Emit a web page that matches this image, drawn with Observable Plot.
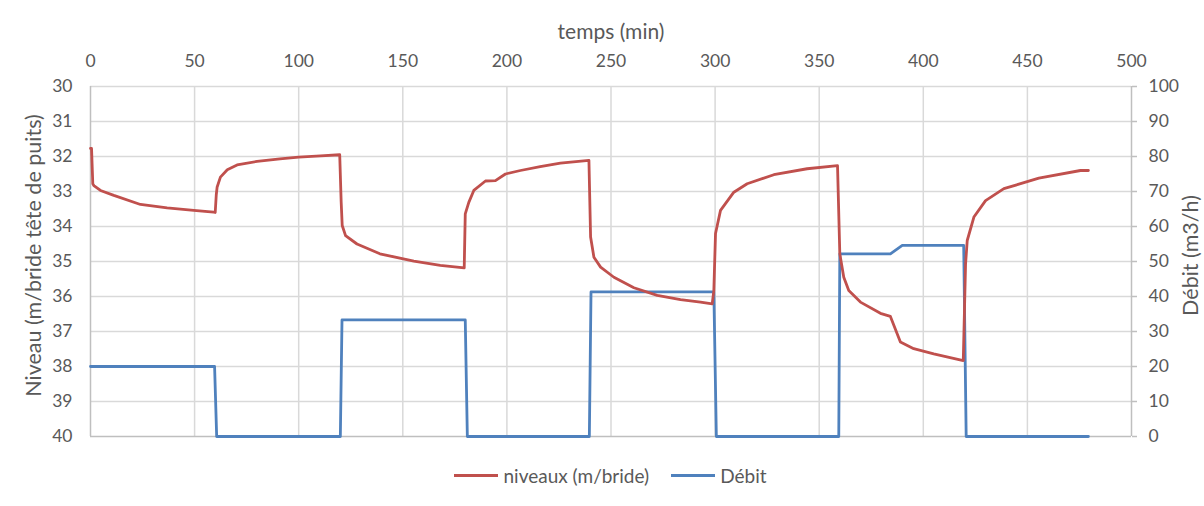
<!DOCTYPE html>
<html><head><meta charset="utf-8">
<script src="https://cdn.jsdelivr.net/npm/d3@7"></script>
<script src="https://cdn.jsdelivr.net/npm/@observablehq/plot@0.6"></script>
<style>
body{margin:0;background:#fff;font-family:Lato,"Open Sans",sans-serif;}
#chart{width:1204px;height:450px;}
#legend{width:1204px;height:50px;display:flex;justify-content:center;align-items:center;font-size:19px;color:#595959;padding-left:17px;box-sizing:border-box}
.item{display:flex;align-items:center;margin:0 11px}
.sw{width:44px;height:3px;margin-right:5px}
</style></head><body><div id="chart"></div><div id="legend"></div>
<script>
const tempsNiveau = [0, 0.5, 1.1, 1.6, 4.8, 11.2, 24, 36.8, 49.6, 55, 59.2, 59.9, 60.4, 60.8, 62.4, 65.7, 70.4, 80, 91, 100, 110.5, 119.7, 120.4, 120.9, 122.5, 128, 139, 155.3, 168, 179.5, 180, 181.7, 184.1, 189.7, 194.5, 199.3, 206.5, 216, 225.7, 239.4, 240.2, 241.8, 245, 251.4, 261, 272.2, 283.4, 293, 298.6, 299.4, 300.2, 302.6, 309, 315.4, 328.2, 344.2, 358.8, 359.9, 361.8, 364.2, 369.8, 379.4, 384.2, 389, 395.4, 405, 419.2, 420.3, 421.1, 424.3, 429.9, 438.7, 455.5, 475.5, 479.3];
const niveau = [31.77, 31.77, 32.78, 32.83, 32.97, 33.11, 33.37, 33.47, 33.54, 33.57, 33.59, 33.6, 33.1, 32.88, 32.59, 32.38, 32.24, 32.14, 32.07, 32.02, 31.98, 31.95, 33.3, 33.97, 34.26, 34.5, 34.78, 34.99, 35.11, 35.18, 33.64, 33.31, 32.97, 32.7, 32.69, 32.5, 32.4, 32.29, 32.19, 32.11, 34.3, 34.88, 35.16, 35.45, 35.75, 35.97, 36.09, 36.16, 36.21, 35.83, 34.2, 33.54, 33.02, 32.78, 32.52, 32.35, 32.26, 34.78, 35.45, 35.83, 36.16, 36.48, 36.57, 37.3, 37.49, 37.64, 37.83, 35.07, 34.4, 33.73, 33.26, 32.92, 32.62, 32.4, 32.4];
const tempsDebit = [0, 59.6, 60.6, 120, 120.8, 180, 181, 239.6, 240.4, 299.4, 300.6, 359.4, 359.9, 384.2, 389.9, 419.4, 420.6, 479.3];
const debit = [20, 20, 0, 0, 33.3, 33.3, 0, 0, 41.3, 41.3, 0, 0, 52.2, 52.2, 54.6, 54.6, 0, 0];
const xTicks = [0, 50, 100, 150, 200, 250, 300, 350, 400, 450, 500];
const yTicksNiveau = [30, 31, 32, 33, 34, 35, 36, 37, 38, 39, 40];
const yTicksDebit = [0, 10, 20, 30, 40, 50, 60, 70, 80, 90, 100];

const toLeft = q => 40 - q / 10;
const niveauData = tempsNiveau.map((t, i) => ({t, v: niveau[i]}));
const debitData = tempsDebit.map((t, i) => ({t, v: toLeft(debit[i])}));
const grid = "#d9d9d9", axisC = "#bfbfbf", txt = "#595959";
const fam = "Lato, 'Open Sans', sans-serif";

const plot = Plot.plot({
  width: 1204, height: 450, marginTop: 86, marginBottom: 14, marginLeft: 90, marginRight: 73,
  style: {fontFamily: fam, fontSize: "17.5px", color: txt, background: "#fff", overflow: "visible"},
  x: {domain: [0, 500]},
  y: {domain: [30, 40], reverse: true},
  marks: [
    Plot.ruleX(xTicks.slice(1, -1), {stroke: grid, strokeWidth: 1.5}),
    Plot.ruleY(yTicksNiveau.slice(0, -1), {stroke: grid, strokeWidth: 1.5}),
    Plot.ruleY([40], {stroke: axisC, strokeWidth: 1.5}),
    Plot.ruleX([0], {stroke: axisC, strokeWidth: 1.5}),
    Plot.ruleX([500], {stroke: axisC, strokeWidth: 1.5}),
    Plot.axisX(xTicks, {anchor: "top", tickSize: 0, tickPadding: 20, label: null, fill: txt}),
    Plot.axisY(yTicksNiveau, {anchor: "left", tickSize: 0, tickPadding: 18, label: null, fill: txt}),
    Plot.axisY(yTicksDebit.map(toLeft), {anchor: "right", tickSize: 5, tickPadding: 12, stroke: axisC, strokeWidth: 1.5, tickFormat: d => String(Math.round((40 - d) * 10)), label: null, fill: txt}),
    Plot.line(debitData, {x: "t", y: "v", stroke: "#4F81BD", strokeWidth: 2.8, curve: "linear"}),
    Plot.line(niveauData, {x: "t", y: "v", stroke: "#C0504D", strokeWidth: 2.8, curve: "linear"}),
    Plot.text(["temps (min)"], {frameAnchor: "top", lineAnchor: "middle", textAnchor: "middle", dy: -54, fill: txt, fontSize: 21}),
    Plot.text(["Niveau (m/bride tête de puits)"], {frameAnchor: "left", rotate: -90, textAnchor: "middle", lineAnchor: "middle", dx: -56, dy: -6, fill: txt, fontSize: 21.5}),
    Plot.text(["Débit (m3/h)"], {frameAnchor: "right", rotate: -90, textAnchor: "middle", lineAnchor: "middle", dx: 60, dy: -6, fill: txt, fontSize: 21.5})
  ]
});
document.getElementById("chart").appendChild(plot);

const legendItems = [{label: "niveaux (m/bride)", color: "#C0504D"}, {label: "Débit", color: "#4F81BD"}];
const lg = document.getElementById("legend");
for (const it of legendItems) {
  const d = document.createElement("div"); d.className = "item";
  const s = document.createElement("div"); s.className = "sw"; s.style.background = it.color;
  const l = document.createElement("span"); l.textContent = it.label;
  d.appendChild(s); d.appendChild(l); lg.appendChild(d);
}
</script></body></html>
